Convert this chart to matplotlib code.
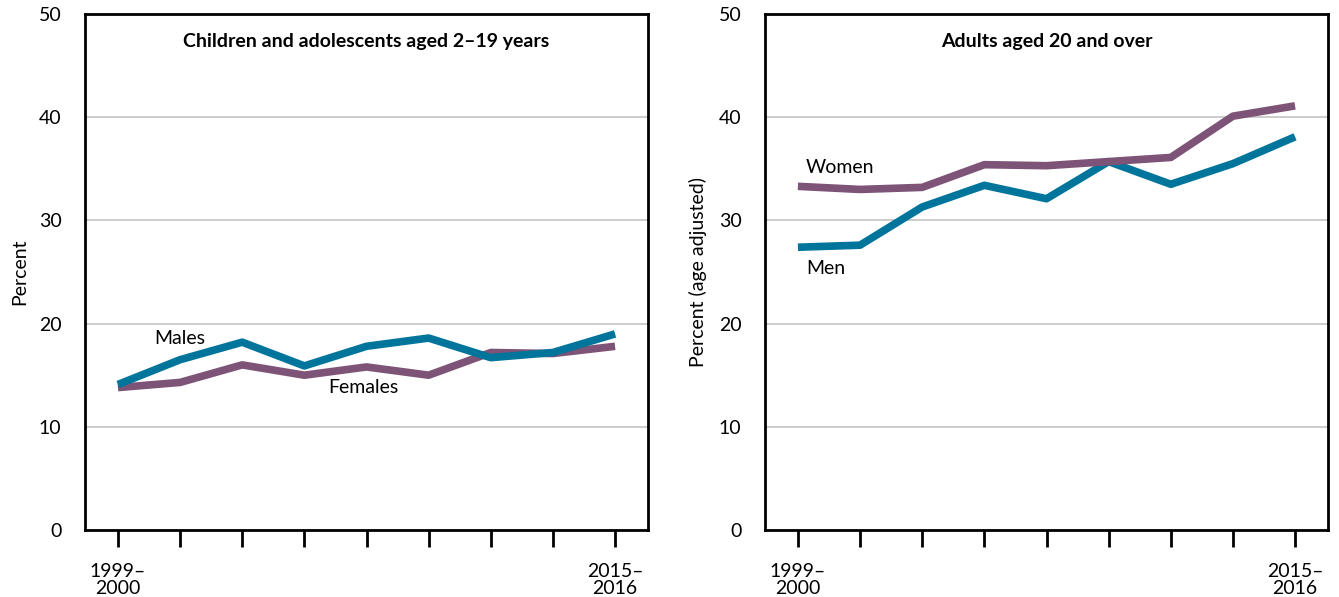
import matplotlib
matplotlib.use("Agg")
import matplotlib.pyplot as plt

plt.rcParams['font.family'] = ['Lato', 'DejaVu Sans']

periods = ["1999–\n2000", "2001–\n2002", "2003–\n2004", "2005–\n2006", "2007–\n2008",
           "2009–\n2010", "2011–\n2012", "2013–\n2014", "2015–\n2016"]
males = [14.1, 16.5, 18.2, 15.9, 17.8, 18.6, 16.7, 17.2, 19.0]
females = [13.8, 14.3, 16.0, 15.0, 15.8, 15.0, 17.2, 17.1, 17.8]
women = [33.3, 33.0, 33.2, 35.4, 35.3, 35.7, 36.1, 40.1, 41.1]
men = [27.4, 27.6, 31.3, 33.4, 32.1, 35.7, 33.5, 35.5, 38.1]
yticks = [0, 10, 20, 30, 40, 50]

TEAL = "#00759C"
PURPLE = "#7D5478"

fig = plt.figure(figsize=(13.39, 5.97), dpi=100)
ax1 = fig.add_axes([85/1339, 67/597, 563/1339, 516/597])
ax2 = fig.add_axes([765/1339, 67/597, 563/1339, 516/597])

x = list(range(len(periods)))

def style(ax, title, ylabel):
    ax.set_xlim(-0.53, len(periods) - 1 + 0.53)
    ax.set_ylim(0, 50)
    ax.set_yticks(yticks)
    ax.yaxis.grid(True, color="#C8C8C8", linewidth=1.3)
    ax.set_axisbelow(True)
    ax.tick_params(axis='y', length=0, labelsize=14, pad=17)
    ax.set_xticks(x)
    labels = [periods[0]] + [""] * (len(periods) - 2) + [periods[-1]]
    ax.set_xticklabels(labels, fontsize=14, linespacing=1.0)
    ax.tick_params(axis='x', length=12, width=2, direction='out', pad=12)
    for s in ax.spines.values():
        s.set_linewidth(2)
        s.set_color("black")
    ax.set_title(title, fontsize=14, fontweight='bold', y=0.947, va='top')
    ax.set_ylabel(ylabel, fontsize=14)

ax1.plot(x, females, color=PURPLE, lw=5.5, solid_capstyle='butt', zorder=3)
ax1.plot(x, males, color=TEAL, lw=5.5, solid_capstyle='butt', zorder=4)
style(ax1, "Children and adolescents aged 2–19 years", "Percent")
ax1.yaxis.set_label_coords(-0.1, 0.5)
ax1.text(1, 18.6, "Males", fontsize=14, ha='center', va='center')
ax1.text(3.95, 13.8, "Females", fontsize=14, ha='center', va='center')

ax2.plot(x, men, color=TEAL, lw=5.5, solid_capstyle='butt', zorder=3)
ax2.plot(x, women, color=PURPLE, lw=5.5, solid_capstyle='butt', zorder=4)
style(ax2, "Adults aged 20 and over", "Percent (age adjusted)")
ax2.yaxis.set_label_coords(-0.103, 0.5)
ax2.text(0.13, 35.1, "Women", fontsize=14, ha='left', va='center')
ax2.text(0.13, 25.3, "Men", fontsize=14, ha='left', va='center')

fig.savefig("out.png", dpi=100)
